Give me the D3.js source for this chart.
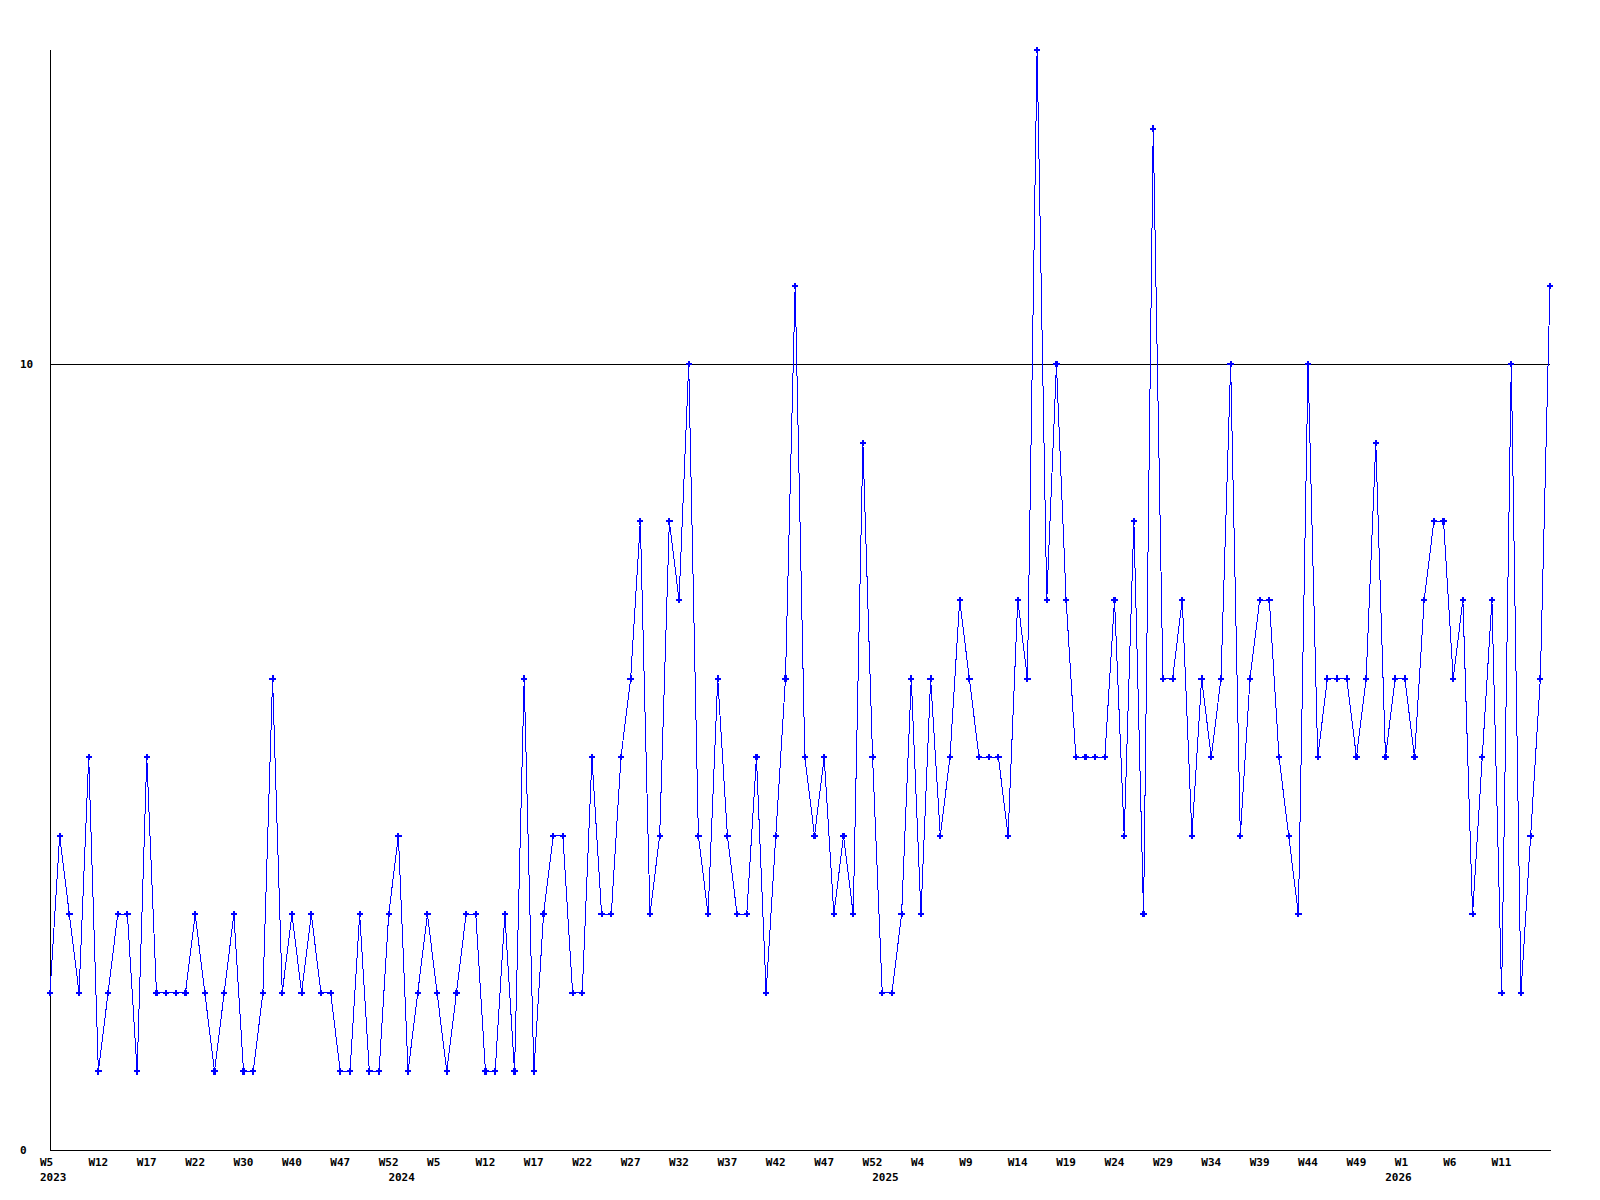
<!DOCTYPE html>
<html>
<head>
<meta charset="utf-8">
<script src="https://cdn.jsdelivr.net/npm/d3@7"></script>
<style>
  html, body { margin: 0; padding: 0; background: #fff; }
  svg { display: block; }
  text { font-family: "DejaVu Sans Mono", "Liberation Mono", monospace; font-weight: bold; font-size: 11px; fill: #000; }
</style>
</head>
<body>
<svg id="chart" width="1600" height="1200"></svg>
<script>
const values = [
  2,4,3,2,5,1,2,3,3,1,
  5,2,2,2,2,3,2,1,2,3,
  1,1,2,6,2,3,2,3,2,2,
  1,1,3,1,1,3,4,1,2,3,
  2,1,2,3,3,1,1,3,1,6,
  1,3,4,4,2,2,5,3,3,5,
  6,8,3,4,8,7,10,4,3,6,
  4,3,3,5,2,4,6,11,5,4,
  5,3,4,3,9,5,2,2,3,6,
  3,6,4,5,7,6,5,5,5,4,
  7,6,14,7,10,7,5,5,5,5,
  7,4,8,3,13,6,6,7,4,6,
  5,6,10,4,6,7,7,5,4,3,
  10,5,6,6,6,5,6,9,5,6,
  6,5,7,8,8,6,7,3,5,7,
  2,10,2,4,6,11
];
const weekTickIndex = [0,5,10,15,20,25,30,35,40,45,50,55,60,65,70,75,80,85,90,95,100,105,110,115,120,125,130,135,140,145,150];
const weekTickLabels = ["W5","W12","W17","W22","W30","W40","W47","W52","W5","W12","W17","W22","W27","W32","W37","W42","W47","W52","W4","W9","W14","W19","W24","W29","W34","W39","W44","W49","W1","W6","W11"];
const yearTickIndex = [0,36,86,139];
const yearTickLabels = ["2023","2024","2025","2026"];
const yTicks = [0, 10];
const yMax = 14;

const svg = d3.select("#chart");
const x = d3.scaleLinear().domain([0, values.length - 1]).range([50, 1550]);
const y = d3.scaleLinear().domain([0, yMax]).range([1150, 50]);

// gridline at 10
svg.selectAll("line.grid").data(yTicks.filter(d => d > 0)).enter().append("line")
  .attr("class","grid")
  .attr("x1", x(0)).attr("x2", x(values.length - 1))
  .attr("y1", d => Math.round(y(d)) + 0.5).attr("y2", d => Math.round(y(d)) + 0.5)
  .attr("stroke", "#000").attr("stroke-width", 1).attr("shape-rendering","crispEdges");

// axes
svg.append("line").attr("x1", x(0) + 0.5).attr("x2", x(0) + 0.5)
  .attr("y1", y(yMax)).attr("y2", y(0) + 1)
  .attr("stroke", "#000").attr("stroke-width", 1).attr("shape-rendering","crispEdges");
svg.append("line").attr("x1", x(0)).attr("x2", x(values.length - 1) + 1)
  .attr("y1", Math.round(y(0)) + 0.5).attr("y2", Math.round(y(0)) + 0.5)
  .attr("stroke", "#000").attr("stroke-width", 1).attr("shape-rendering","crispEdges");

// y labels
svg.selectAll("text.ylab").data(yTicks).enter().append("text")
  .attr("class","ylab")
  .attr("x", 20).attr("y", d => y(d) + 4)
  .text(d => d);

// week labels
svg.selectAll("text.wk").data(weekTickIndex).enter().append("text")
  .attr("class","wk")
  .attr("x", d => x(d) - 10).attr("y", 1166)
  .text((d, i) => weekTickLabels[i]);

// year labels
svg.selectAll("text.yr").data(yearTickIndex).enter().append("text")
  .attr("class","yr")
  .attr("x", d => x(d) - 10).attr("y", 1181)
  .text((d, i) => yearTickLabels[i]);

// line
const line = d3.line().x((d, i) => x(i)).y(d => y(d));
svg.append("path").datum(values)
  .attr("d", line)
  .attr("fill", "none")
  .attr("stroke", "#0000ff")
  .attr("stroke-width", 1)
  .attr("shape-rendering", "crispEdges");

// markers
const sym = d3.symbol().type(d3.symbolCross).size(22);
svg.selectAll("path.mk").data(values).enter().append("path")
  .attr("class","mk")
  .attr("d", sym)
  .attr("transform", (d, i) => `translate(${x(i)},${y(d)})`)
  .attr("fill", "#0000ff")
  .attr("shape-rendering", "crispEdges");
</script>
</body>
</html>
